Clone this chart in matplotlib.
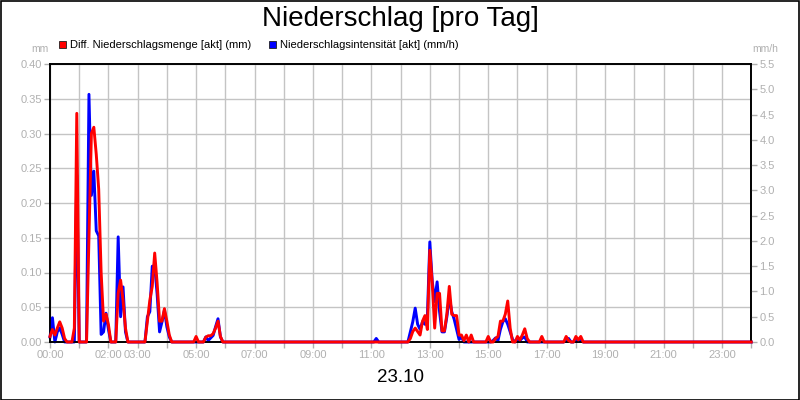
import matplotlib
matplotlib.use("Agg")
import matplotlib.pyplot as plt
from matplotlib.patches import Rectangle
from matplotlib.ticker import FixedLocator, FormatStrFormatter

plt.rcParams['font.family'] = ['Liberation Sans', 'DejaVu Sans']

# ---- data (time in minutes since 00:00) ----
minutes = [0, 5, 10, 15, 20, 25, 30, 35, 45, 50, 55, 60, 75, 80, 85, 90, 95, 100,
           105, 110, 115, 120, 125, 135, 140, 145, 150, 155, 160, 195, 200, 205,
           210, 215, 220, 225, 230, 235, 240, 245, 250, 295, 300, 305, 315, 320,
           325, 330, 335, 340, 345, 350, 355, 665, 670, 675, 735, 740, 745, 750,
           755, 760, 765, 770, 775, 780, 785, 790, 795, 800, 805, 810, 815, 820,
           825, 830, 835, 840, 845, 850, 855, 860, 865, 870, 895, 900, 905, 910,
           915, 920, 925, 930, 935, 940, 945, 950, 955, 960, 965, 970, 975, 980,
           985, 1005, 1010, 1015, 1055, 1060, 1065, 1070, 1075, 1080, 1085, 1090,
           1095, 1440]
menge_mm = [0.008, 0.018, 0.010, 0.020, 0.029, 0.020, 0.005, 0, 0, 0.02, 0.329, 0,
            0, 0.15, 0.30, 0.309, 0.27, 0.22, 0.10, 0.03, 0.04, 0.025, 0, 0, 0.07,
            0.089, 0.06, 0.02, 0, 0, 0.03, 0.06, 0.08, 0.128, 0.085, 0.03, 0.03,
            0.048, 0.03, 0.01, 0, 0, 0.008, 0, 0, 0.007, 0.009, 0.009, 0.012, 0.02,
            0.03, 0.008, 0, 0, 0, 0, 0, 0.005, 0.015, 0.02, 0.015, 0.01, 0.03,
            0.038, 0.018, 0.132, 0.084, 0.02, 0.07, 0.07, 0.016, 0.016, 0.04, 0.08,
            0.04, 0.038, 0.038, 0.01, 0.01, 0.002, 0.01, 0, 0.01, 0, 0, 0.008, 0,
            0, 0.005, 0.008, 0.03, 0.03, 0.04, 0.059, 0.02, 0, 0, 0.008, 0.003,
            0.01, 0.019, 0.005, 0, 0, 0.008, 0, 0, 0.008, 0.002, 0, 0, 0.008,
            0.003, 0.008, 0, 0]
intensitaet_mmh = [0.10, 0.48, 0.0, 0.20, 0.28, 0.15, 0.0, 0, 0, 0, 3.3, 0, 0,
                   4.9, 2.9, 3.38, 2.2, 2.1, 0.15, 0.2, 0.57, 0.25, 0, 0, 2.08,
                   0.5, 1.09, 0.2, 0, 0, 0.5, 0.6, 1.5, 1.5, 0.95, 0.2, 0.4, 0.63,
                   0.3, 0.1, 0, 0, 0, 0, 0, 0.1, 0.03, 0.08, 0.13, 0.3, 0.46, 0.1,
                   0, 0, 0.07, 0, 0, 0.2, 0.4, 0.67, 0.35, 0.25, 0.4, 0.35, 0.5,
                   1.98, 1.2, 0.8, 1.19, 0.6, 0.2, 0.2, 0.5, 0.89, 0.6, 0.45, 0.25,
                   0.05, 0.1, 0, 0, 0, 0, 0, 0, 0, 0, 0.03, 0.08, 0.03, 0.25, 0.4,
                   0.46, 0.35, 0.2, 0.05, 0, 0.05, 0.03, 0.08, 0.1, 0, 0, 0, 0, 0,
                   0, 0.03, 0.07, 0, 0, 0.05, 0.02, 0.05, 0, 0]

hour_ticks = list(range(0, 25))
labeled_hours = [0, 2, 3, 5, 7, 9, 11, 13, 15, 17, 19, 21, 23]
left_ticks = [0.00, 0.05, 0.10, 0.15, 0.20, 0.25, 0.30, 0.35, 0.40]
right_ticks = [0.0, 0.5, 1.0, 1.5, 2.0, 2.5, 3.0, 3.5, 4.0, 4.5, 5.0, 5.5]

title = "Niederschlag [pro Tag]"
date_label = "23.10"
legend_red = "Diff. Niederschlagsmenge [akt] (mm)"
legend_blue = "Niederschlagsintensität [akt] (mm/h)"

# ---- styling ----
GRAY = "#b0b0b0"
GRID = "#c4c4c4"
RED = "#ff0000"
BLUE = "#0000ff"

fig = plt.figure(figsize=(8, 4), dpi=100)
fig.patch.set_facecolor("white")
fig.patches.append(Rectangle((0.001, 0.001), 0.998, 0.997, transform=fig.transFigure,
                             fill=False, edgecolor="black", linewidth=1.2))

pos = [0.0625, 0.145, 0.8765, 0.695]
ax = fig.add_axes(pos)
hours = [m / 60.0 for m in minutes]

ax.set_xlim(0, 24)
ax.set_ylim(0, 0.40)
ax.xaxis.set_major_locator(FixedLocator(hour_ticks))
ax.set_xticklabels([f"{h:02d}:00" if h in labeled_hours else "" for h in hour_ticks])
ax.yaxis.set_major_locator(FixedLocator(left_ticks))
ax.yaxis.set_major_formatter(FormatStrFormatter("%.2f"))
ax.grid(True, color=GRID, linewidth=1.0)
ax.set_axisbelow(True)
ax.tick_params(axis="both", colors=GRAY, labelcolor=GRAY, labelsize=8,
               length=4, width=1, pad=2)
for s in ax.spines.values():
    s.set_color("black")
    s.set_linewidth(1.2)

tw = ax.twinx()
tw.set_ylim(0, 5.5)
tw.yaxis.set_major_locator(FixedLocator(right_ticks))
tw.yaxis.set_major_formatter(FormatStrFormatter("%.1f"))
tw.tick_params(axis="y", colors=GRAY, labelcolor=GRAY, labelsize=8,
               length=4, width=1, pad=2)
for s in tw.spines.values():
    s.set_color("black")
    s.set_linewidth(1.2)
tw.plot(hours, intensitaet_mmh, color=BLUE, linewidth=2.1, clip_on=False,
        solid_joinstyle="round")

ax3 = fig.add_axes(pos, sharex=ax, sharey=ax)
ax3.patch.set_visible(False)
ax3.axis("off")
ax3.plot(hours, menge_mm, color=RED, linewidth=2.1, clip_on=False,
         solid_joinstyle="round")

# texts
fig.text(0.5, 0.952, title, ha="center", va="center", fontsize=20, color="black")
fig.text(0.5, 0.055, date_label, ha="center", va="center", fontsize=13.5, color="black")
fig.text(0.05, 0.877, "mm", ha="center", va="center", fontsize=7.5, color=GRAY)
fig.text(0.956, 0.877, "mm/h", ha="center", va="center", fontsize=7.5, color=GRAY)

# manual legend
fig.patches.append(Rectangle((58.5 / 800, 1 - 48 / 400), 7 / 800, 7 / 400,
                             transform=fig.transFigure, facecolor=RED,
                             edgecolor="#202020", linewidth=0.6))
fig.text(70 / 800, 1 - 44.5 / 400, legend_red, ha="left", va="center",
         fontsize=8, color="black")
fig.patches.append(Rectangle((268.5 / 800, 1 - 48 / 400), 7 / 800, 7 / 400,
                             transform=fig.transFigure, facecolor=BLUE,
                             edgecolor="#202020", linewidth=0.6))
fig.text(280 / 800, 1 - 44.5 / 400, legend_blue, ha="left", va="center",
         fontsize=8, color="black")

fig.savefig("out.png", dpi=100)
